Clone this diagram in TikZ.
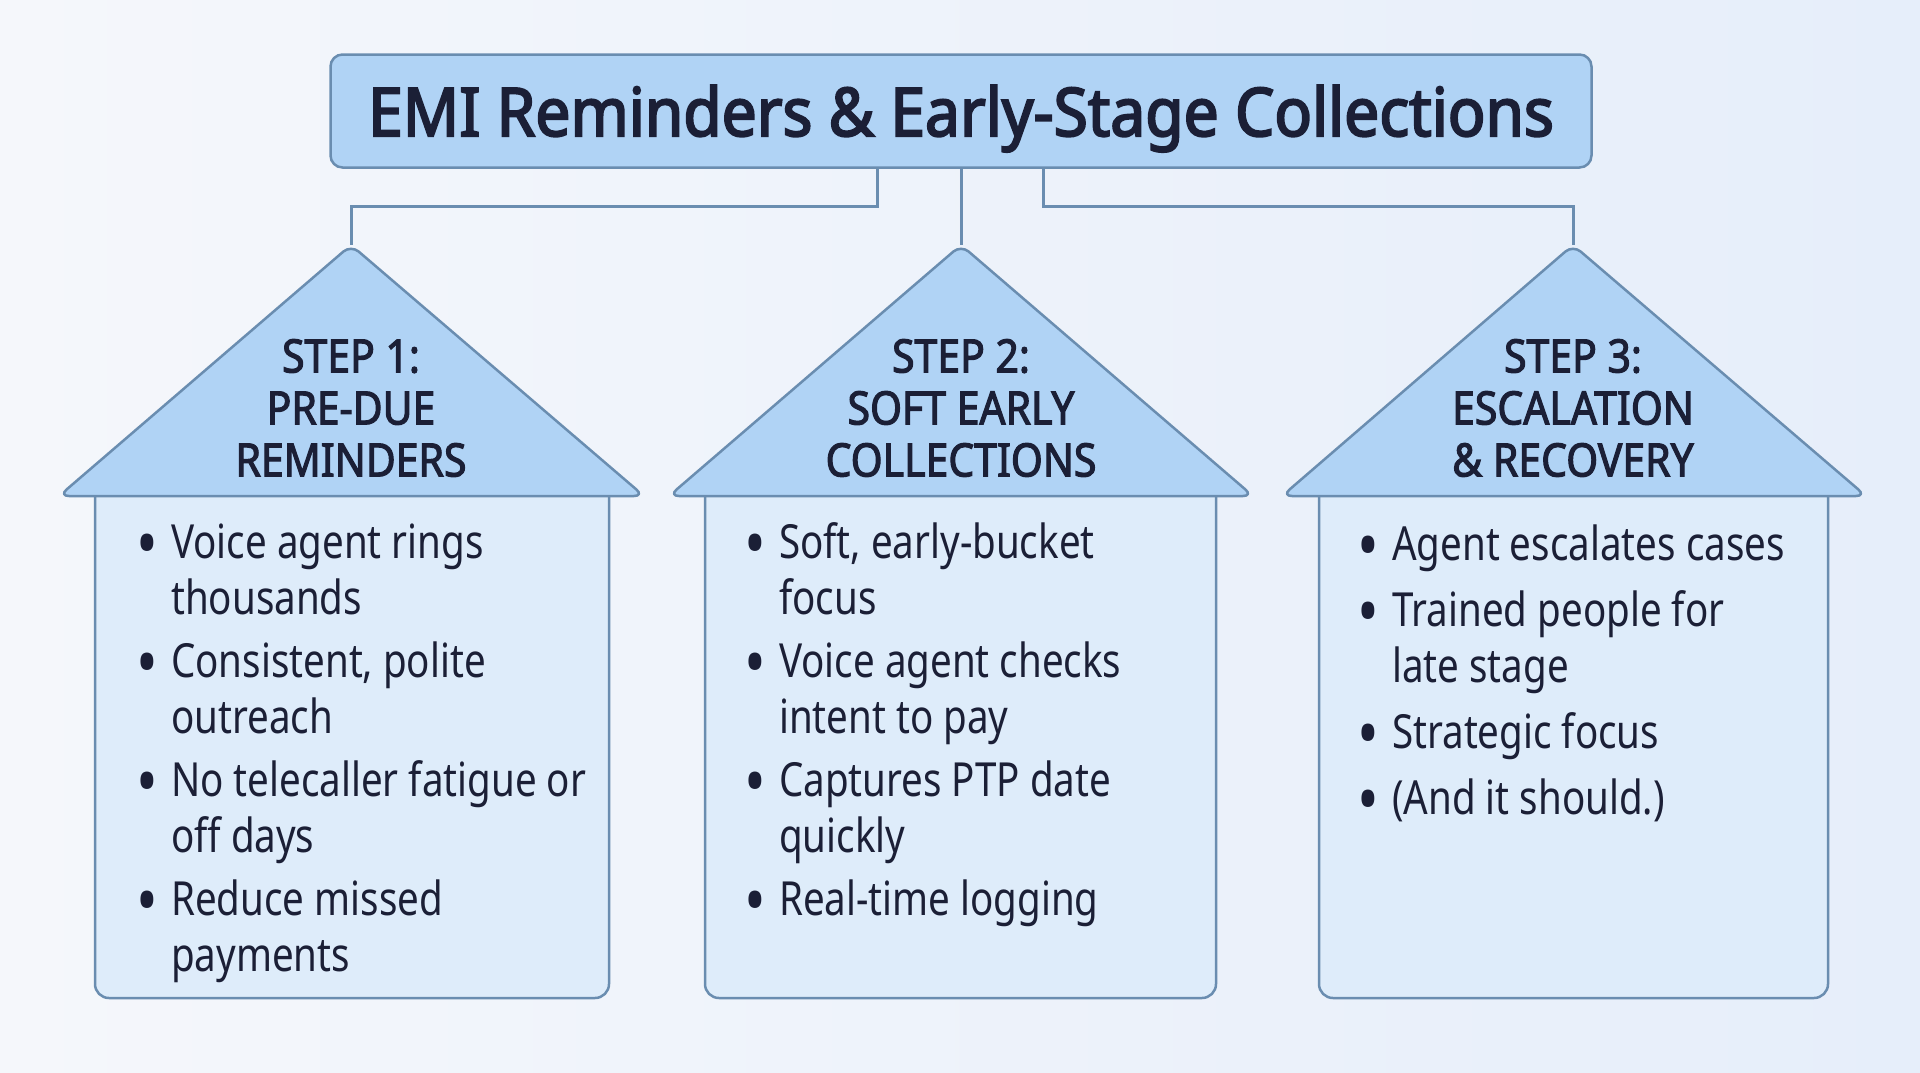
\documentclass[tikz,border=0pt]{standalone}
\usepackage{fontspec}
\setmainfont{Noto Sans}[FakeStretch=0.82]
\newfontfamily\hfont{Noto Sans}[FakeStretch=0.89, FakeBold=2.4]
\newfontfamily\tfont{Noto Sans}[FakeStretch=0.93, FakeBold=3]
\definecolor{bgL}{HTML}{F5F7FB}
\definecolor{bgR}{HTML}{E6EEFA}
\definecolor{edge}{HTML}{6A8DB0}
\definecolor{roofblue}{HTML}{B0D3F5}
\definecolor{bodyfill}{HTML}{DEECFA}
\definecolor{ink}{HTML}{1B1F36}
\newcommand{\bl}{\makebox[35pt][l]{\raisebox{-10pt}{\scalebox{1.5}{\textbullet}}}}
\begin{document}
\begin{tikzpicture}[x=1pt,y=-1pt,
  titlebox/.style={draw=edge, line width=2.5pt, fill=roofblue, rounded corners=12pt,
    minimum width=1261pt, minimum height=113pt, inner sep=0pt},
  titletext/.style={text=ink, inner sep=0pt, font=\tfont\fontsize{67}{72}\selectfont},
  link/.style={draw=edge, line width=3pt},
  roof/.style={draw=edge, line width=2.5pt, fill=roofblue, rounded corners=10pt, line join=round},
  body/.style={draw=edge, line width=2.5pt, fill=bodyfill, rounded corners=14pt},
  rooftext/.style={align=center, text=ink, inner sep=0pt, font=\hfont\fontsize{46}{52}\selectfont},
  bodytext/.style={anchor=base west, inner sep=0pt, text=ink, font=\fontsize{47}{56}\selectfont}
]
\useasboundingbox (0,0) rectangle (1920,1072);
\shade[left color=bgL, right color=bgR] (0,0) rectangle (1920,1072);

% title
\node[titlebox] (title) at (961,111) {};
\node[titletext, anchor=base] (titletxt) at (961,136) {EMI Reminders \& Early-Stage Collections};

% apex coordinates
\coordinate (a1) at (351,245);
\coordinate (a2) at (961,245);
\coordinate (a3) at (1573,245);
\coordinate (c1) at (877,168);
\coordinate (c3) at (1043,168);

% connectors
\draw[link] (title.south -| c1) -- ++(0,38) -| (a1);
\draw[link] (title.south -| a2) -- (a2);
\draw[link] (title.south -| c3) -- ++(0,38) -| (a3);

% houses
\foreach \cx/\bx/\br/\rl/\rr in {351/95/609/59/644, 961/705/1216/669/1253, 1573/1319/1828/1282/1866}{
  \path[body] (\bx,480) rectangle (\br,998);
  \path[roof] (\rl,496) -- (\cx,245) -- (\rr,496) -- cycle;
}

\node[rooftext] (r1) at (351,408) {STEP 1:\\PRE-DUE\\REMINDERS};
\node[rooftext] (r2) at (961,408) {STEP 2:\\SOFT EARLY\\COLLECTIONS};
\node[rooftext] (r3) at (1573,408) {STEP 3:\\ESCALATION\\\& RECOVERY};

\node[bodytext] (b1) at (136,558) {\begin{tabular}[t]{@{}l@{}l@{}}
\bl & Voice agent rings\\ & thousands\\[7pt]
\bl & Consistent, polite\\ & outreach\\[7pt]
\bl & No telecaller fatigue or\\ & off days\\[7pt]
\bl & Reduce missed\\ & payments
\end{tabular}};

\node[bodytext] (b2) at (744,558) {\begin{tabular}[t]{@{}l@{}l@{}}
\bl & Soft, early-bucket\\ & focus\\[7pt]
\bl & Voice agent checks\\ & intent to pay\\[7pt]
\bl & Captures PTP date\\ & quickly\\[7pt]
\bl & Real-time logging
\end{tabular}};

\node[bodytext] (b3) at (1357,560) {\begin{tabular}[t]{@{}l@{}l@{}}
\bl & Agent escalates cases\\[10pt]
\bl & Trained people for\\ & late stage\\[10pt]
\bl & Strategic focus\\[10pt]
\bl & (And it should.)
\end{tabular}};
\end{tikzpicture}
\end{document}
